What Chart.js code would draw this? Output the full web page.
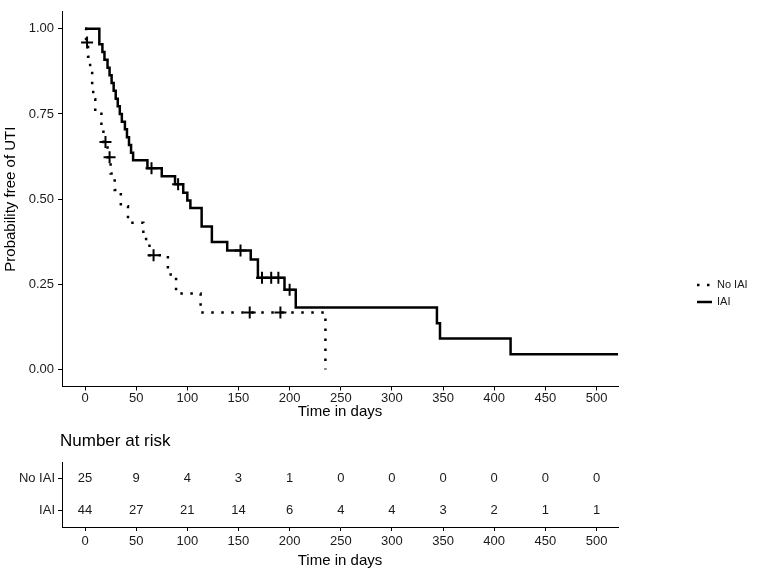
<!doctype html>
<html lang="en">
<head>
<meta charset="UTF-8" />
<title>Probability free of UTI</title>
<script src="https://cdn.jsdelivr.net/npm/chart.js"></script>
<style>
  body { margin: 0; background: #fff; }
  #wrap { position: relative; width: 757px; height: 571px; }
  #kmChart { position: absolute; left: 0; top: 0; }
  #riskChart { position: absolute; left: 0; top: 425px; }
</style>
</head>
<body>
<div id="wrap">
  <canvas id="kmChart" width="757" height="425"></canvas>
  <canvas id="riskChart" width="757" height="146"></canvas>
</div>
<script>
const xTicks = [0, 50, 100, 150, 200, 250, 300, 350, 400, 450, 500];
const yTicks = [0, 0.25, 0.5, 0.75, 1];

// IAI group (solid line): step times and survival after each step
const iaiTime = [0, 14, 17, 19, 22, 24, 26, 28, 30, 32, 34, 36, 39, 41, 43, 45, 47, 61, 75, 88, 96, 100, 103, 114, 124, 139, 162, 169, 195, 206, 344, 347, 416, 521];
const iaiSurv = [1, 0.955, 0.932, 0.909, 0.886, 0.864, 0.841, 0.818, 0.795, 0.773, 0.75, 0.727, 0.705, 0.682, 0.659, 0.636, 0.614, 0.591, 0.567, 0.544, 0.519, 0.496, 0.474, 0.42, 0.374, 0.349, 0.323, 0.269, 0.234, 0.182, 0.136, 0.091, 0.045, 0.045];
const iaiCensTime = [65, 91, 152, 173, 182, 189, 200];
const iaiCensSurv = [0.591, 0.544, 0.349, 0.269, 0.269, 0.269, 0.234];

// No IAI group (dotted line)
const noTime = [0, 1, 3, 5, 7, 8, 10, 16, 18, 22, 25, 29, 35, 42, 57, 63, 81, 89, 113, 235];
const noSurv = [1, 0.96, 0.918, 0.877, 0.835, 0.793, 0.751, 0.71, 0.668, 0.623, 0.575, 0.527, 0.479, 0.431, 0.383, 0.335, 0.279, 0.223, 0.167, 0];
const noCensTime = [2, 20, 24, 67, 161, 191];
const noCensSurv = [0.96, 0.668, 0.623, 0.335, 0.167, 0.167];

// number at risk table
const riskTimes = [0, 50, 100, 150, 200, 250, 300, 350, 400, 450, 500];
const riskGroups = ["No IAI", "IAI"];
const noRisk = [25, 9, 4, 3, 1, 0, 0, 0, 0, 0, 0];
const iaiRisk = [44, 27, 21, 14, 6, 4, 4, 3, 2, 1, 1];

const FONT = "'Liberation Sans', Arial, sans-serif";
const INK = "#000";
const TEXT = "#1a1a1a";
const DOTS = [2.5, 7.5];

function pts(xs, ys) {
  return xs.map((x, i) => ({ x: x, y: ys[i] }));
}

function xAxis(height, tickPad, titlePad) {
  return {
    type: "linear",
    min: -22.5,
    max: 521,
    afterBuildTicks: (s) => { s.ticks = xTicks.map((v) => ({ value: v })); },
    afterFit: (s) => { s.height = height; },
    border: { color: INK, width: 1 },
    grid: { drawOnChartArea: false, drawTicks: true, tickLength: 4, color: INK },
    ticks: { font: { family: FONT, size: 13 }, color: TEXT, padding: tickPad, maxRotation: 0, autoSkip: false },
    title: { display: true, text: "Time in days", font: { family: FONT, size: 15 }, color: INK, padding: { top: 0, bottom: titlePad } },
  };
}

// legend on the right, outside the plot
const sideLegend = {
  id: "sideLegend",
  afterDraw(chart) {
    const ctx = chart.ctx;
    const items = [
      { ds: chart.data.datasets[0], y: 285 },
      { ds: chart.data.datasets[1], y: 302 },
    ];
    ctx.save();
    items.forEach((it) => {
      ctx.strokeStyle = INK;
      ctx.lineWidth = it.ds.borderWidth;
      ctx.setLineDash(it.ds.borderDash || []);
      ctx.lineCap = "butt";
      ctx.beginPath();
      ctx.moveTo(697, it.y);
      ctx.lineTo(712, it.y);
      ctx.stroke();
      ctx.setLineDash([]);
      ctx.fillStyle = TEXT;
      ctx.font = "11px " + FONT;
      ctx.textBaseline = "middle";
      ctx.fillText(it.ds.label, 717, it.y);
    });
    ctx.restore();
  },
};

new Chart(document.getElementById("kmChart"), {
  type: "line",
  data: {
    datasets: [
      { label: "No IAI", data: pts(noTime, noSurv), borderColor: INK, borderWidth: 2.5, borderDash: DOTS, borderCapStyle: "butt", stepped: "before", pointRadius: 0, fill: false },
      { label: "IAI", data: pts(iaiTime, iaiSurv), borderColor: INK, borderWidth: 2.5, stepped: "before", pointRadius: 0, fill: false },
      { label: "No IAI censored", data: pts(noCensTime, noCensSurv), showLine: false, pointStyle: "cross", pointRadius: 6, pointBorderWidth: 2, pointBorderColor: INK },
      { label: "IAI censored", data: pts(iaiCensTime, iaiCensSurv), showLine: false, pointStyle: "cross", pointRadius: 6, pointBorderWidth: 2, pointBorderColor: INK },
    ],
  },
  options: {
    responsive: false,
    animation: false,
    layout: { padding: { top: 1.5, right: 139, left: 0, bottom: 0 } },
    plugins: { legend: { display: false }, tooltip: { enabled: false } },
    scales: {
      x: xAxis(38.5, 0, 4),
      y: {
        min: -0.05,
        max: 1.05,
        afterBuildTicks: (s) => { s.ticks = yTicks.map((v) => ({ value: v })); },
        afterFit: (s) => { s.width = 62; },
        border: { color: INK, width: 1 },
        grid: { drawOnChartArea: false, drawTicks: true, tickLength: 4, color: INK },
        ticks: { font: { family: FONT, size: 13 }, color: TEXT, padding: 4, callback: (v) => Number(v).toFixed(2) },
        title: { display: true, text: "Probability free of UTI", font: { family: FONT, size: 15 }, color: INK, padding: { top: 2, bottom: 0 } },
      },
    },
  },
  plugins: [sideLegend],
});

// numbers at risk written at the point positions
const riskNumbers = {
  id: "riskNumbers",
  afterDatasetsDraw(chart) {
    const ctx = chart.ctx;
    ctx.save();
    ctx.fillStyle = TEXT;
    ctx.font = "13px " + FONT;
    ctx.textAlign = "center";
    ctx.textBaseline = "middle";
    chart.data.datasets.forEach((ds, di) => {
      chart.getDatasetMeta(di).data.forEach((el, i) => {
        ctx.fillText(String(ds.counts[i]), el.x, el.y);
      });
    });
    ctx.font = "17px " + FONT;
    ctx.textAlign = "left";
    ctx.fillStyle = INK;
    ctx.fillText("Number at risk", chart.chartArea.left - 2, 16);
    ctx.restore();
  },
};

new Chart(document.getElementById("riskChart"), {
  type: "scatter",
  data: {
    datasets: [
      { label: "No IAI", counts: noRisk, data: riskTimes.map((t) => ({ x: t, y: "No IAI" })), pointRadius: 0 },
      { label: "IAI", counts: iaiRisk, data: riskTimes.map((t) => ({ x: t, y: "IAI" })), pointRadius: 0 },
    ],
  },
  options: {
    responsive: false,
    animation: false,
    layout: { padding: { top: 37, right: 139, left: 0, bottom: 0 } },
    plugins: { legend: { display: false }, tooltip: { enabled: false } },
    scales: {
      x: xAxis(44, 3, 1),
      y: {
        type: "category",
        labels: riskGroups,
        offset: true,
        afterFit: (s) => { s.width = 62; },
        border: { color: INK, width: 1 },
        grid: { offset: false, drawOnChartArea: false, drawTicks: true, tickLength: 4, color: INK },
        ticks: { font: { family: FONT, size: 13 }, color: TEXT, padding: 3 },
      },
    },
  },
  plugins: [riskNumbers],
});
</script>
</body>
</html>
